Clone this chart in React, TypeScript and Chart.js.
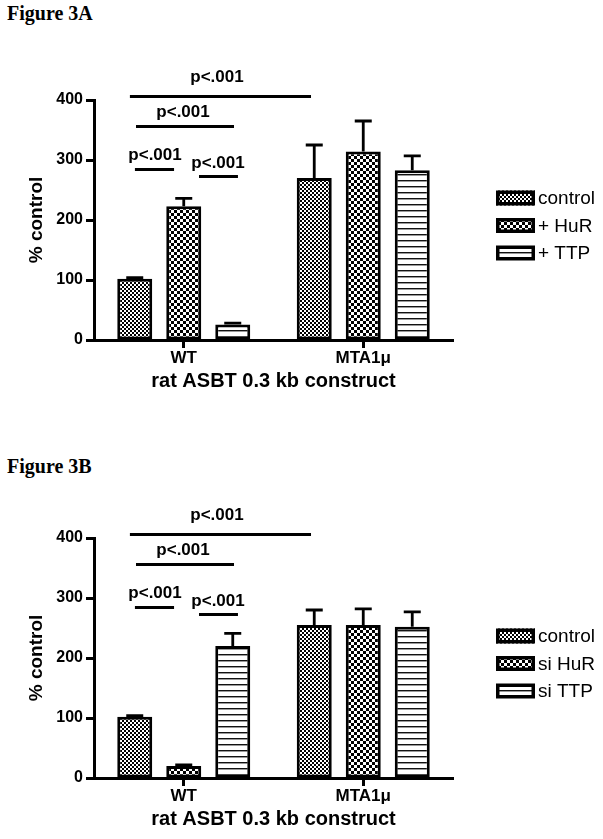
import React, { useEffect, useRef } from "react";
import { Chart, registerables } from "chart.js";

Chart.register(...registerables);

// ---------- data ----------
const categories = ["WT", "MTA1μ"];
const yTicks = [0, 100, 200, 300, 400];

const seriesA = ["control", "+ HuR", "+ TTP"];
const controlA = [102, 270];
const controlErrA = [2, 55];
const hurA = [223, 314];
const hurErrA = [13, 51];
const ttpA = [26, 283];
const ttpErrA = [2, 24];

const seriesB = ["control", "si HuR", "si TTP"];
const controlB = [102, 255];
const controlErrB = [2, 25];
const hurB = [20, 255];
const hurErrB = [2, 27];
const ttpB = [220, 252];
const ttpErrB = [21, 25];

// significance brackets (x in category units, y in value units)
const pLabels = ["p<.001", "p<.001", "p<.001", "p<.001"];
const bracketFrom = [-0.3, -0.266, -0.272, 0.085];
const bracketTo = [0.709, 0.28, -0.054, 0.302];
const bracketY = [407, 357, 285, 273];
const pLabelX = [0.185, -0.004, -0.16, 0.191];
const pLabelY = [438, 380, 308, 295];

const xTitle = "rat ASBT 0.3 kb construct";
const yTitle = "% control";

const SANS = "'Liberation Sans', Arial, Helvetica, sans-serif";

type Kind = "fine" | "check" | "lines";

function makePattern(ctx: CanvasRenderingContext2D, kind: Kind): CanvasPattern | string {
  const c = document.createElement("canvas");
  const t = c.getContext("2d")!;
  if (kind === "fine") {
    c.width = 4; c.height = 4;
    t.fillStyle = "#fff"; t.fillRect(0, 0, 4, 4);
    t.fillStyle = "#000"; t.fillRect(0, 0, 2, 2); t.fillRect(2, 2, 2, 2);
  } else if (kind === "check") {
    c.width = 6; c.height = 6;
    t.fillStyle = "#fff"; t.fillRect(0, 0, 6, 6);
    t.fillStyle = "#000"; t.fillRect(0, 0, 3, 3); t.fillRect(3, 3, 3, 3);
  } else {
    c.width = 6; c.height = 6;
    t.fillStyle = "#fff"; t.fillRect(0, 0, 6, 6);
    t.fillStyle = "#111"; t.fillRect(0, 0, 6, 1);
    t.fillStyle = "#999"; t.fillRect(0, 1, 6, 1);
  }
  return ctx.createPattern(c, "repeat") || "#888";
}

const errorBarPlugin = {
  id: "errorBars",
  afterDatasetsDraw(chart: any) {
    const ctx = chart.ctx;
    const y = chart.scales.y;
    ctx.save();
    ctx.strokeStyle = "#000";
    ctx.lineWidth = 2.8;
    chart.data.datasets.forEach((ds: any, i: number) => {
      const meta = chart.getDatasetMeta(i);
      meta.data.forEach((el: any, j: number) => {
        const v = ds.data[j];
        const e = ds.errors[j];
        const top = y.getPixelForValue(v + e);
        ctx.beginPath();
        ctx.moveTo(el.x, el.y);
        ctx.lineTo(el.x, top);
        ctx.moveTo(el.x - 8.5, top);
        ctx.lineTo(el.x + 8.5, top);
        ctx.stroke();
      });
    });
    ctx.restore();
  },
};

const bracketPlugin = {
  id: "brackets",
  afterDraw(chart: any) {
    const ctx = chart.ctx;
    const xs = chart.scales.x;
    const ys = chart.scales.y;
    ctx.save();
    ctx.strokeStyle = "#000";
    ctx.lineWidth = 3;
    ctx.fillStyle = "#000";
    ctx.font = `bold 17px ${SANS}`;
    ctx.textAlign = "center";
    ctx.textBaseline = "middle";
    for (let i = 0; i < pLabels.length; i++) {
      const yy = Math.round(ys.getPixelForValue(bracketY[i])) + 0.5;
      ctx.beginPath();
      ctx.moveTo(xs.getPixelForValue(bracketFrom[i]), yy);
      ctx.lineTo(xs.getPixelForValue(bracketTo[i]), yy);
      ctx.stroke();
      ctx.fillText(pLabels[i], xs.getPixelForValue(pLabelX[i]), ys.getPixelForValue(pLabelY[i]));
    }
    ctx.restore();
  },
};

const legendPlugin = {
  id: "customLegend",
  afterDraw(chart: any) {
    const ctx = chart.ctx;
    const area = chart.chartArea;
    const offsets = [98, 125.5, 153];
    ctx.save();
    ctx.font = `19px ${SANS}`;
    ctx.textBaseline = "middle";
    ctx.textAlign = "left";
    chart.data.datasets.forEach((ds: any, i: number) => {
      const bx = area.right + 43;
      const cy = area.top + offsets[i];
      const w = 39, h = 15;
      ctx.fillStyle = ds.backgroundColor;
      ctx.fillRect(bx, cy - h / 2, w, h);
      ctx.strokeStyle = "#000";
      ctx.lineWidth = 3.5;
      ctx.strokeRect(bx + 1.75, cy - h / 2 + 1.75, w - 3.5, h - 3.5);
      ctx.fillStyle = "#000";
      ctx.fillText(ds.label, bx + w + 3, cy + 1);
    });
    ctx.restore();
  },
};

type FigProps = {
  series: string[];
  values: number[][];
  errors: number[][];
  top: number;
};

function BarFigure({ series, values, errors, top }: FigProps) {
  const ref = useRef<HTMLCanvasElement | null>(null);
  useEffect(() => {
    const canvas = ref.current!;
    const ctx = canvas.getContext("2d")!;
    const kinds: Kind[] = ["fine", "check", "lines"];
    const chart = new Chart(canvas, {
      type: "bar",
      data: {
        labels: categories,
        datasets: series.map((s, i) => ({
          label: s,
          data: values[i],
          errors: errors[i],
          backgroundColor: makePattern(ctx, kinds[i]),
          borderColor: "#000",
          borderWidth: 3,
          borderSkipped: false,
          categoryPercentage: 0.819,
          barPercentage: 0.714,
        })) as any,
      },
      options: {
        responsive: false,
        animation: false,
        events: [],
        layout: { padding: { top: 100, right: 150, bottom: 7, left: 0 } },
        plugins: {
          legend: { display: false },
          tooltip: { enabled: false },
          title: { display: false },
        },
        scales: {
          x: {
            type: "category",
            offset: true,
            grid: {
              offset: false,
              drawOnChartArea: false,
              drawTicks: true,
              tickLength: 8,
              tickWidth: 3,
              tickColor: "#000",
            },
            border: { display: true, color: "#000", width: 3 },
            ticks: {
              color: "#000",
              font: { family: SANS, size: 17, weight: "bold" },
              padding: 0,
              maxRotation: 0,
            },
            title: {
              display: true,
              text: xTitle,
              color: "#000",
              font: { family: SANS, size: 20, weight: "bold" },
              padding: 0,
            },
            afterFit: (s: any) => { s.height = 53; },
          },
          y: {
            type: "linear",
            min: 0,
            max: 400,
            afterBuildTicks: (s: any) => { s.ticks = yTicks.map((v) => ({ value: v })); },
            ticks: {
              color: "#000",
              font: { family: SANS, size: 16, weight: "bold" },
              padding: 3,
            },
            grid: {
              drawOnChartArea: false,
              drawTicks: true,
              tickLength: 8,
              tickWidth: 3,
              tickColor: "#000",
            },
            border: { display: true, color: "#000", width: 3 },
            title: {
              display: true,
              text: yTitle,
              color: "#000",
              font: { family: SANS, size: 19, weight: "bold" },
              padding: { top: 25, bottom: 0 },
            },
            afterFit: (s: any) => { s.width = 94; },
          },
        },
      } as any,
      plugins: [errorBarPlugin, bracketPlugin, legendPlugin],
    });
    return () => chart.destroy();
  }, [series, values, errors]);
  return (
    <canvas
      ref={ref}
      width={603}
      height={400}
      style={{ position: "absolute", left: 0, top, width: 603, height: 400, display: "block" }}
    />
  );
}

const titleStyle: React.CSSProperties = {
  position: "absolute",
  left: 7,
  margin: 0,
  fontFamily: "'Liberation Serif', 'Times New Roman', serif",
  fontWeight: "bold",
  fontSize: 20,
  lineHeight: "20px",
  color: "#000",
  whiteSpace: "nowrap",
};

const valuesA = [controlA, hurA, ttpA];
const errorsA = [controlErrA, hurErrA, ttpErrA];
const valuesB = [controlB, hurB, ttpB];
const errorsB = [controlErrB, hurErrB, ttpErrB];

export default function App() {
  return (
    <div style={{ position: "absolute", left: 0, top: 0, width: 603, height: 839, background: "#fff", overflow: "hidden" }}>
      <div style={{ ...titleStyle, top: 3 }}>Figure 3A</div>
      <BarFigure series={seriesA} values={valuesA} errors={errorsA} top={0} />
      <div style={{ ...titleStyle, top: 456 }}>Figure 3B</div>
      <BarFigure series={seriesB} values={valuesB} errors={errorsB} top={438} />
    </div>
  );
}
